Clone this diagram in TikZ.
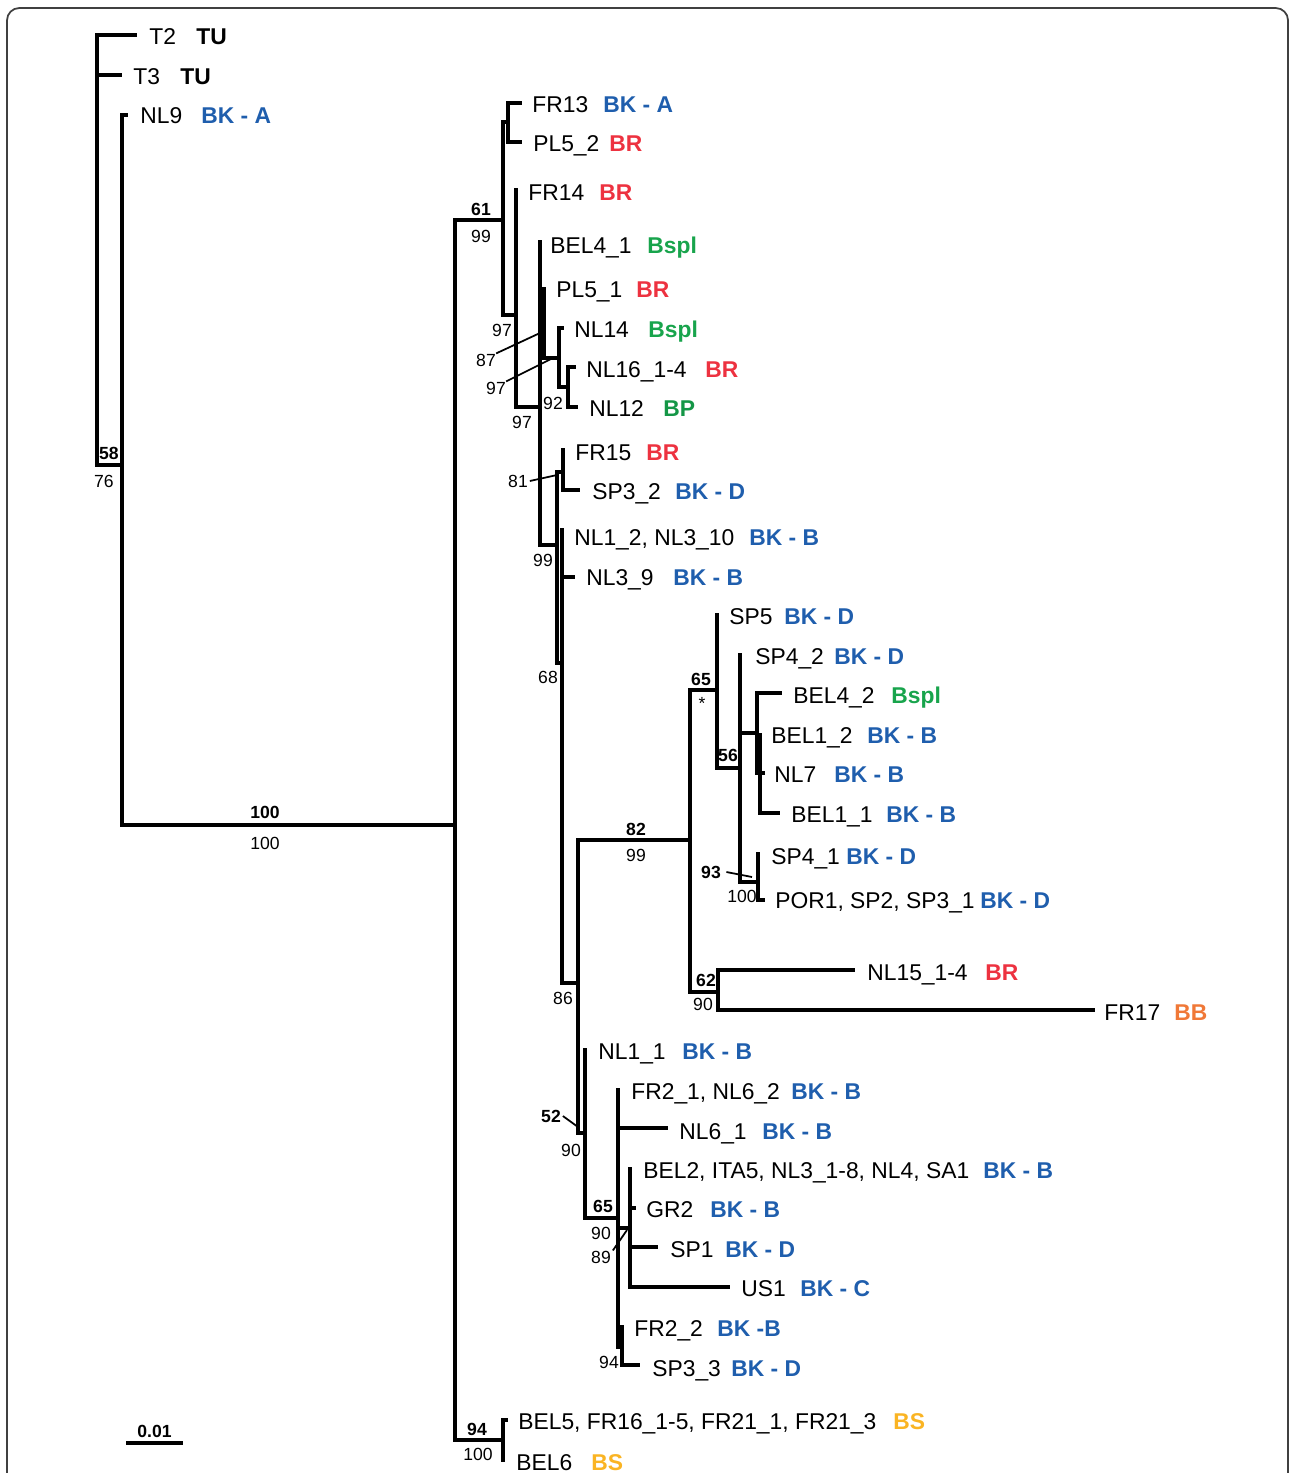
\documentclass[tikz,border=0pt]{standalone}
\usepackage{fontspec}
\setmainfont{Liberation Sans}
\usetikzlibrary{positioning}
\definecolor{bkblue}{RGB}{31,94,173}
\definecolor{brred}{RGB}{237,50,64}
\definecolor{bsgreen}{RGB}{24,164,76}
\definecolor{bpgreen}{RGB}{20,150,70}
\definecolor{bborange}{RGB}{240,120,55}
\definecolor{bsyellow}{RGB}{250,180,35}
\tikzset{
  branch/.style={line width=1.9pt},
  leader/.style={line width=1pt},
  taxon/.style={anchor=west, inner sep=0pt, font=\fontsize{13}{15}\selectfont, text height=9.4pt, text depth=0pt},
  clade/.style={taxon, font=\bfseries\fontsize{13}{15}\selectfont},
  boot/.style={inner sep=0pt, font=\fontsize{10}{12}\selectfont},
  bootb/.style={boot, font=\bfseries\fontsize{10}{12}\selectfont},
}

\begin{document}
\begin{tikzpicture}[x=0.02cm, y=-0.02cm]
    \useasboundingbox (0,0) rectangle (1290,1473);
    % Frame round the figure.
    \draw[black!75, line width=1pt, rounded corners=7pt] (7,8) rectangle (1288,1510);

    % Internal nodes of the tree.
    \coordinate (root) at (97,250);
    \coordinate (n58) at (122,465);
    \coordinate (n100) at (455,825);
    \coordinate (n61) at (503,220);
    \coordinate (n13) at (508,122);
    \coordinate (n97a) at (516,315);
    \coordinate (n97b) at (540,407);
    \coordinate (n87) at (544,323);
    \coordinate (n97c) at (559,358);
    \coordinate (n92) at (568,387);
    \coordinate (n99) at (557,545);
    \coordinate (n81) at (563,472);
    \coordinate (n68) at (562,663);
    \coordinate (n86) at (578,983);
    \coordinate (n82) at (690,840);
    \coordinate (n65) at (717,690);
    \coordinate (n56) at (740,768);
    \coordinate (nbel) at (757,733);
    \coordinate (nnl7) at (760,773);
    \coordinate (n93) at (758,882);
    \coordinate (n62) at (718,992);
    \coordinate (n52) at (585,1133);
    \coordinate (n65b) at (618,1218);
    \coordinate (n89) at (630,1228);
    \coordinate (n94b) at (622,1347);
    \coordinate (n94) at (503,1440);

    % Tips of the leaves.
    \coordinate (tT2) at (137,35);
    \coordinate (tT3) at (122,75);
    \coordinate (tNL9) at (128,115);
    \coordinate (tFR13) at (522,103);
    \coordinate (tPL52) at (522,142);
    \coordinate (tFR14) at (516,188);
    \coordinate (tBEL41) at (540,240);
    \coordinate (tPL51) at (544,287);
    \coordinate (tNL14) at (564,328);
    \coordinate (tNL16) at (576,367);
    \coordinate (tNL12) at (578,407);
    \coordinate (tFR15) at (563,448);
    \coordinate (tSP32) at (580,490);
    \coordinate (tNL1two) at (562,528);
    \coordinate (tNL39) at (575,577);
    \coordinate (tSP5) at (717,613);
    \coordinate (tSP42) at (740,653);
    \coordinate (tBEL42) at (782,693);
    \coordinate (tBEL12) at (760,733);
    \coordinate (tNL7) at (765,773);
    \coordinate (tBEL11) at (780,813);
    \coordinate (tSP41) at (758,852);
    \coordinate (tPOR1) at (765,900);
    \coordinate (tNL15) at (855,970);
    \coordinate (tFR17) at (1095,1010);
    \coordinate (tNL11) at (585,1048);
    \coordinate (tFR21) at (618,1088);
    \coordinate (tNL61) at (668,1128);
    \coordinate (tBEL2) at (630,1167);
    \coordinate (tGR2) at (636,1208);
    \coordinate (tSP1) at (658,1247);
    \coordinate (tUS1) at (730,1287);
    \coordinate (tFR22) at (622,1325);
    \coordinate (tSP33) at (640,1365);
    \coordinate (tBEL5) at (508,1420);
    \coordinate (tBEL6) at (503,1462);

    % Draw the branches, parent to child.
    \draw[branch] (root) |- (tT2) (root) |- (tT3) (root) |- (n58);
    \draw[branch] (n58) |- (tNL9) (n58) |- (n100);
    \draw[branch] (n100) |- (n61) (n100) |- (n94);
    \draw[branch] (n61) |- (n13) (n61) |- (n97a);
    \draw[branch] (n13) |- (tFR13) (n13) |- (tPL52);
    \draw[branch] (n97a) |- (tFR14) (n97a) |- (n97b);
    \draw[branch] (n97b) |- (tBEL41) (n97b) |- (n87) (n97b) |- (n99);
    \draw[branch] (n87) |- (tPL51) (n87) |- (n97c);
    \draw[branch] (n97c) |- (tNL14) (n97c) |- (n92);
    \draw[branch] (n92) |- (tNL16) (n92) |- (tNL12);
    \draw[branch] (n99) |- (n81) (n99) |- (n68);
    \draw[branch] (n81) |- (tFR15) (n81) |- (tSP32);
    \draw[branch] (n68) |- (tNL1two) (n68) |- (tNL39) (n68) |- (n86);
    \draw[branch] (n86) |- (n82) (n86) |- (n52);
    \draw[branch] (n82) |- (n65) (n82) |- (n62);
    \draw[branch] (n65) |- (tSP5) (n65) |- (n56);
    \draw[branch] (n56) |- (tSP42) (n56) |- (nbel) (n56) |- (n93);
    \draw[branch] (nbel) |- (tBEL42) (nbel) |- (nnl7);
    \draw[branch] (nnl7) |- (tBEL12) (nnl7) |- (tNL7) (nnl7) |- (tBEL11);
    \draw[branch] (n93) |- (tSP41) (n93) |- (tPOR1);
    \draw[branch] (n62) |- (tNL15) (n62) |- (tFR17);
    \draw[branch] (n52) |- (tNL11) (n52) |- (n65b);
    \draw[branch] (n65b) |- (tFR21) (n65b) |- (tNL61) (n65b) |- (n89) (n65b) |- (n94b);
    \draw[branch] (n89) |- (tBEL2) (n89) |- (tGR2) (n89) |- (tSP1) (n89) |- (tUS1);
    \draw[branch] (n94b) |- (tFR22) (n94b) |- (tSP33);
    \draw[branch] (n94) |- (tBEL5) (n94) |- (tBEL6);

    % Leaf names and their groups.
    \node[taxon] (lT2) at (149,36) {T2};
    \node[clade] (cT2) at (196,36) {TU};
    \node[taxon] (lT3) at (133,76) {T3};
    \node[clade] (cT3) at (180,76) {TU};
    \node[taxon] (lNL9) at (140,115) {NL9};
    \node[clade, text=bkblue] (cNL9) at (201,115) {BK - A};
    \node[taxon] (lFR13) at (532,104) {FR13};
    \node[clade, text=bkblue] (cFR13) at (603,104) {BK - A};
    \node[taxon] (lPL52) at (533,143) {PL5\_2};
    \node[clade, text=brred] (cPL52) at (609,143) {BR};
    \node[taxon] (lFR14) at (528,192) {FR14};
    \node[clade, text=brred] (cFR14) at (599,192) {BR};
    \node[taxon] (lBEL41) at (550,245) {BEL4\_1};
    \node[clade, text=bsgreen] (cBEL41) at (647,245) {Bspl};
    \node[taxon] (lPL51) at (556,289) {PL5\_1};
    \node[clade, text=brred] (cPL51) at (636,289) {BR};
    \node[taxon] (lNL14) at (574,329) {NL14};
    \node[clade, text=bsgreen] (cNL14) at (648,329) {Bspl};
    \node[taxon] (lNL16) at (586,369) {NL16\_1-4};
    \node[clade, text=brred] (cNL16) at (705,369) {BR};
    \node[taxon] (lNL12) at (589,408) {NL12};
    \node[clade, text=bpgreen] (cNL12) at (663,408) {BP};
    \node[taxon] (lFR15) at (575,452) {FR15};
    \node[clade, text=brred] (cFR15) at (646,452) {BR};
    \node[taxon] (lSP32) at (592,491) {SP3\_2};
    \node[clade, text=bkblue] (cSP32) at (675,491) {BK - D};
    \node[taxon] (lNL1two) at (574,537) {NL1\_2, NL3\_10};
    \node[clade, text=bkblue] (cNL1two) at (749,537) {BK - B};
    \node[taxon] (lNL39) at (586,577) {NL3\_9};
    \node[clade, text=bkblue] (cNL39) at (673,577) {BK - B};
    \node[taxon] (lSP5) at (729,616) {SP5};
    \node[clade, text=bkblue] (cSP5) at (784,616) {BK - D};
    \node[taxon] (lSP42) at (755,656) {SP4\_2};
    \node[clade, text=bkblue] (cSP42) at (834,656) {BK - D};
    \node[taxon] (lBEL42) at (793,695) {BEL4\_2};
    \node[clade, text=bsgreen] (cBEL42) at (891,695) {Bspl};
    \node[taxon] (lBEL12) at (771,735) {BEL1\_2};
    \node[clade, text=bkblue] (cBEL12) at (867,735) {BK - B};
    \node[taxon] (lNL7) at (774,774) {NL7};
    \node[clade, text=bkblue] (cNL7) at (834,774) {BK - B};
    \node[taxon] (lBEL11) at (791,814) {BEL1\_1};
    \node[clade, text=bkblue] (cBEL11) at (886,814) {BK - B};
    \node[taxon] (lSP41) at (771,856) {SP4\_1};
    \node[clade, text=bkblue] (cSP41) at (846,856) {BK - D};
    \node[taxon] (lPOR1) at (775,900) {POR1, SP2, SP3\_1};
    \node[clade, text=bkblue] (cPOR1) at (980,900) {BK - D};
    \node[taxon] (lNL15) at (867,972) {NL15\_1-4};
    \node[clade, text=brred] (cNL15) at (985,972) {BR};
    \node[taxon] (lFR17) at (1104,1012) {FR17};
    \node[clade, text=bborange] (cFR17) at (1174,1012) {BB};
    \node[taxon] (lNL11) at (598,1051) {NL1\_1};
    \node[clade, text=bkblue] (cNL11) at (682,1051) {BK - B};
    \node[taxon] (lFR21) at (631,1091) {FR2\_1, NL6\_2};
    \node[clade, text=bkblue] (cFR21) at (791,1091) {BK - B};
    \node[taxon] (lNL61) at (679,1131) {NL6\_1};
    \node[clade, text=bkblue] (cNL61) at (762,1131) {BK - B};
    \node[taxon] (lBEL2) at (643,1170) {BEL2, ITA5, NL3\_1-8, NL4, SA1};
    \node[clade, text=bkblue] (cBEL2) at (983,1170) {BK - B};
    \node[taxon] (lGR2) at (646,1209) {GR2};
    \node[clade, text=bkblue] (cGR2) at (710,1209) {BK - B};
    \node[taxon] (lSP1) at (670,1249) {SP1};
    \node[clade, text=bkblue] (cSP1) at (725,1249) {BK - D};
    \node[taxon] (lUS1) at (741,1288) {US1};
    \node[clade, text=bkblue] (cUS1) at (800,1288) {BK - C};
    \node[taxon] (lFR22) at (634,1328) {FR2\_2};
    \node[clade, text=bkblue] (cFR22) at (717,1328) {BK -B};
    \node[taxon] (lSP33) at (652,1368) {SP3\_3};
    \node[clade, text=bkblue] (cSP33) at (731,1368) {BK - D};
    \node[taxon] (lBEL5) at (518,1421) {BEL5, FR16\_1-5, FR21\_1, FR21\_3};
    \node[clade, text=bsyellow] (cBEL5) at (893,1421) {BS};
    \node[taxon] (lBEL6) at (516,1462) {BEL6};
    \node[clade, text=bsyellow] (cBEL6) at (591,1462) {BS};

    % Support values, bold above and plain below the branch.
    \node[bootb] (b58) at (109,453) {58};
    \node[boot] (b76) at (104,481) {76};
    \node[bootb] (b100) at (265,812) {100};
    \node[boot] (b100l) at (265,843) {100};
    \node[bootb] (b61) at (481,209) {61};
    \node[boot] (b99a) at (481,236) {99};
    \node[boot] (b97a) at (502,330) {97};
    \node[boot] (b87) at (486,360) {87};
    \node[boot] (b97c) at (496,388) {97};
    \node[boot] (b92) at (553,403) {92};
    \node[boot] (b97b) at (522,422) {97};
    \node[boot] (b81) at (518,481) {81};
    \node[boot] (b99b) at (543,560) {99};
    \node[boot] (b68) at (548,677) {68};
    \node[bootb] (b65) at (701,679) {65};
    \node[boot] (bstar) at (702,703) {*};
    \node[bootb] (b56) at (728,755) {56};
    \node[bootb] (b82) at (636,829) {82};
    \node[boot] (b99c) at (636,855) {99};
    \node[bootb] (b93) at (711,872) {93};
    \node[boot] (b100c) at (742,896) {100};
    \node[bootb] (b62) at (706,980) {62};
    \node[boot] (b90a) at (703,1004) {90};
    \node[boot] (b86) at (563,998) {86};
    \node[bootb] (b52) at (551,1116) {52};
    \node[boot] (b90b) at (571,1150) {90};
    \node[bootb] (b65b) at (603,1206) {65};
    \node[boot] (b90c) at (601,1233) {90};
    \node[boot] (b89) at (601,1257) {89};
    \node[boot] (b94a) at (609,1362) {94};
    \node[bootb] (b94) at (477,1429) {94};
    \node[boot] (b100d) at (478,1454) {100};

    % Leader lines from the values to their nodes.
    \coordinate (p87) at (540,333);
    \coordinate (p97c) at (553,358);
    \coordinate (p81) at (557,475);
    \coordinate (p93) at (752,877);
    \coordinate (p52) at (578,1127);
    \coordinate (p89) at (627,1230);
    \draw[leader] (b87.north east) -- (p87);
    \draw[leader] (b97c.north east) -- (p97c);
    \draw[leader] ([xshift=1pt]b81.east) -- (p81);
    \draw[leader] ([xshift=3pt]b93.east) -- (p93);
    \draw[leader] ([xshift=1pt]b52.east) -- (p52);
    \draw[leader] ([xshift=1pt]b89.north east) -- (p89);

    % Scale bar.
    \draw[branch] (126,1443) -- (183,1443) node[bootb, midway, above=2pt] (scale) {0.01};
\end{tikzpicture}
\end{document}
